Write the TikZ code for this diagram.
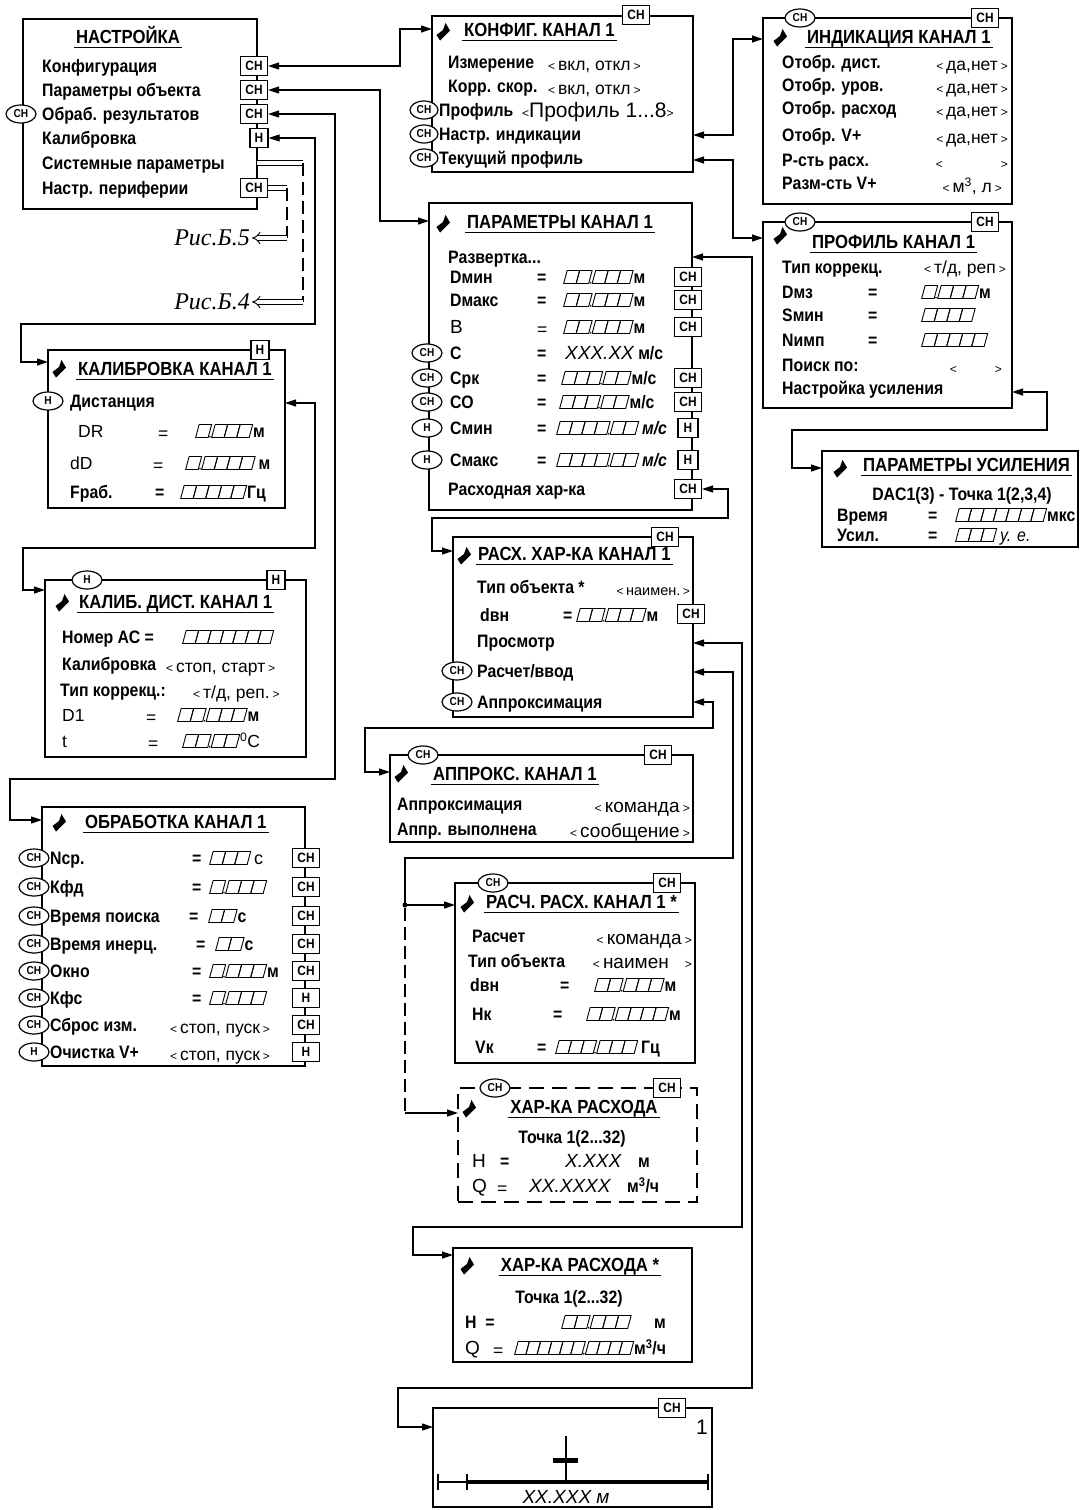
\documentclass[tikz,border=0pt]{standalone}
\usepackage{fontspec}
\setmainfont{Liberation Sans}[FakeStretch=0.88]
\newfontfamily\valfam{Liberation Sans}
\newfontfamily\risfont{Liberation Serif}
\usetikzlibrary{arrows.meta, shapes.geometric}

\newcommand\lblfont{\fontsize{18}{18}\selectfont\bfseries}
\newcommand\valfont{\valfam\fontsize{17.5}{17.5}\selectfont}
\newcommand\ttlfont{\fontsize{19}{19}\selectfont\bfseries}
\newcommand\tagfont{\fontsize{13.5}{13.5}\selectfont\bfseries}
\newcommand\lab{{\valfam\fontsize{12}{12}\selectfont\mdseries<}}
\newcommand\rab{{\valfam\fontsize{12}{12}\selectfont\mdseries>}}
\newcommand\opt[1]{\lab\,#1\,\rab}
% digit cells of the indicator
\newcommand\dgw{12.5}
\newcommand\dgt[2]{\tikz[baseline=0pt,x=1pt,y=1pt,line width=0.9pt]{%
  \foreach \q in {1,...,#1}{\draw (\q*\dgw-\dgw,0) -- ++(\dgw,0) -- ++(3.5,13) -- ++(-\dgw,0) -- cycle;}%
  \ifnum#2>0
    \fill (#1*\dgw+1.8,0.8) circle (0.9pt);
    \foreach \q in {1,...,#2}{\draw (#1*\dgw+3.5+\q*\dgw-\dgw,0) -- ++(\dgw,0) -- ++(3.5,13) -- ++(-\dgw,0) -- cycle;}%
  \fi}}
% menu cursor mark
\newcommand\flagmark[1]{\fill #1 ++(2.5,-9) -- ++(4.5,7.5) -- ++(-10,10) -- ++(-3.5,-5.5) -- ++(6.5,-5) -- cycle;}

\tikzset{
  panel/.style={draw, line width=2pt, inner sep=0pt},
  lbl/.style={anchor=west, inner sep=0pt, text height=13pt, text depth=0pt, font=\lblfont},
  val/.style={lbl, font=\valfont},
  ttl/.style={anchor=west, inner xsep=2pt, inner ysep=0pt, text height=15pt, text depth=4pt, font=\ttlfont},
  tag/.style={draw, fill=white, line width=1.2pt, font=\tagfont, inner sep=0pt, minimum width=27pt, minimum height=19pt},
  ntag/.style={tag, minimum width=18pt},
  oval/.style={ellipse, draw, fill=white, line width=1.2pt, font=\fontsize{11.5}{11.5}\selectfont\bfseries, inner sep=0pt, minimum width=30pt, minimum height=18pt},
  ris/.style={inner xsep=2pt, inner ysep=0pt, font=\risfont\itshape\fontsize{24}{24}\selectfont},
  link/.style={line width=1.2pt, {Triangle[length=11pt,width=7pt]}-{Triangle[length=11pt,width=7pt]}},
  into/.style={line width=1.2pt, -{Triangle[length=11pt,width=7pt]}},
  dbl/.style={double, double distance=3.5pt, line width=0.9pt},
  dashline/.style={line width=2pt, dash pattern=on 13pt off 6pt},
  uline/.style={line width=1.3pt},
}

\begin{document}
\begin{tikzpicture}[x=1pt, y=-1pt]
\useasboundingbox (0,0) rectangle (1081,1510);

% НАСТРОЙКА
\node[panel, minimum width=234pt, minimum height=190pt] (nastr) at (140,113.5) {};
\node[ttl, anchor=center] (nastrT) at (128,38) {НАСТРОЙКА};
\foreach \n/\y/\t in {1/66/Конфигурация, 2/90/Параметры объекта, 3/114/Обраб. результатов,
                      4/138/Калибровка, 5/163/Системные параметры, 6/188/Настр. периферии}
  \node[lbl] (na\n) at (42,\y) {\t};
\node[tag] (tKonf) at (254,66) {СН};
\node[tag] (tParam) at (254,90) {СН};
\node[tag] (tObr) at (254,114) {СН};
\node[ntag] (tKal) at (259,138) {Н};
\node[tag] (tPer) at (254,188) {СН};
\node[oval] (oObr) at (21,114) {СН};
\coordinate (sysOut) at (257,163);

\node[ris, anchor=east] (ris5) at (252,238) {Рис.Б.5};
\node[ris, anchor=east] (ris4) at (252,302) {Рис.Б.4};
\draw[dbl] (sysOut) -- (303,163);
\draw[dashline] (303,163) -- (303,302);
\draw[dbl, -{Implies[scale=1.4]}] (303,302) -- (ris4.east);
\draw[dbl] (tPer.east) -- (287,188);
\draw[dashline] (287,188) -- (287,238);
\draw[dbl, -{Implies[scale=1.4]}] (287,238) -- (ris5.east);

% КОНФИГ. КАНАЛ 1
\node[panel, minimum width=261pt, minimum height=156pt] (konf) at (562.5,94) {};
\node[tag] (konfTg) at (636,15) {СН};
\flagmark{(443,32)}
\node[ttl] (konfT) at (462,31) {КОНФИГ. КАНАЛ 1};
\node[lbl] (ko1) at (448,62) {Измерение};
\node[val] (ko1v) at (548,64) {\opt{вкл, откл}};
\node[lbl] (ko2) at (448,86) {Корр. скор.};
\node[val] (ko2v) at (548,88) {\opt{вкл, откл}};
\node[lbl] (ko3) at (439,110) {Профиль};
\node[val, font=\valfam\fontsize{21}{21}\selectfont] (ko3v) at (522,111) {\lab Профиль 1...8\rab};
\node[lbl] (ko4) at (439,134) {Настр. индикации};
\node[lbl] (ko5) at (439,158) {Текущий профиль};
\foreach \n/\y in {3/110, 4/134, 5/158}
  \node[oval, minimum width=28pt] (koo\n) at (424,\y) {СН};
\coordinate (konfIn) at (432,29);
\coordinate (konfInd) at (693,135);
\coordinate (konfProf) at (693,160);

% ИНДИКАЦИЯ КАНАЛ 1
\node[panel, minimum width=249pt, minimum height=186pt] (indik) at (887.5,111) {};
\node[oval] (indO) at (800,18) {СН};
\node[tag] (indTg) at (985,18) {СН};
\flagmark{(780,38)}
\node[ttl] (indT) at (805,38) {ИНДИКАЦИЯ КАНАЛ 1};
\foreach \n/\y/\t in {1/62/Отобр. дист., 2/85/Отобр. уров., 3/108/Отобр. расход,
                      4/135/Отобр. V+, 5/160/Р-сть расх., 6/183/Разм-сть V+}
  \node[lbl] (in\n) at (782,\y) {\t};
\foreach \n/\y in {1/64, 2/87, 3/110, 4/137}
  \node[val, anchor=east] (in\n v) at (1008,\y) {\opt{да,нет}};
\node[val, anchor=east] (in5v) at (1008,162) {\lab\hspace{58pt}\rab};
\node[val, anchor=east] (in6v) at (1002,186) {\opt{м\textsuperscript{3}, л}};
\coordinate (indIn) at (763,39);

% ПРОФИЛЬ КАНАЛ 1
\node[panel, minimum width=249pt, minimum height=186pt] (prof) at (887.5,315) {};
\node[oval] (profO) at (800,222) {СН};
\node[tag] (profTg) at (985,222) {СН};
\flagmark{(780,236)}
\node[ttl] (profT) at (810,243) {ПРОФИЛЬ КАНАЛ 1};
\foreach \n/\y/\t in {1/267/Тип коррекц., 2/292/Dмз, 3/315/Sмин, 4/340/Nимп,
                      5/365/Поиск по:, 6/388/Настройка усиления}
  \node[lbl] (pr\n) at (782,\y) {\t};
\foreach \n/\y in {2/292, 3/315, 4/340}
  \node[lbl] (pr\n e) at (868,\y) {=};
\node[val, anchor=east] (pr1v) at (1006,267) {\opt{т/д, реп}};
\node[lbl] (pr2v) at (921,292) {\dgt{1}{3}м};
\node[lbl] (pr3v) at (921,315) {\dgt{4}{0}};
\node[lbl] (pr4v) at (921,340) {\dgt{5}{0}};
\node[val, anchor=east] (pr5v) at (1002,367) {\lab\hspace{38pt}\rab};
\coordinate (profIn) at (763,238);
\coordinate (profUs) at (1012,392);

% ПАРАМЕТРЫ УСИЛЕНИЯ
\node[panel, minimum width=256pt, minimum height=96pt] (usil) at (950,499) {};
\flagmark{(840,469)}
\node[ttl] (usilT) at (861,466) {ПАРАМЕТРЫ УСИЛЕНИЯ};
\node[lbl, anchor=center] (us0) at (962,494) {DAC1(3) - Точка 1(2,3,4)};
\node[lbl] (us1) at (837,515) {Время};
\node[lbl] (us1e) at (928,515) {=};
\node[lbl] (us1v) at (955,515) {\dgt{7}{0}мкс};
\node[lbl] (us2) at (837,535) {Усил.};
\node[lbl] (us2e) at (928,535) {=};
\node[lbl] (us2v) at (955,535) {\dgt{3}{0}\,{\mdseries\itshape у. е.}};
\coordinate (usIn) at (822,468);

% ПАРАМЕТРЫ КАНАЛ 1
\node[panel, minimum width=263pt, minimum height=307pt] (param) at (560.5,356.5) {};
\flagmark{(443,224)}
\node[ttl] (paramT) at (465,223) {ПАРАМЕТРЫ КАНАЛ 1};
\node[lbl] (pa0) at (448,257) {Развертка...};
\foreach \n/\y/\t in {1/277/Dмин, 2/300/Dмакс, 4/353/С, 5/378/Срк, 6/402/СО, 7/428/Смин, 8/460/Смакс}
  \node[lbl] (pa\n) at (450,\y) {\t};
\node[val, font=\valfam\fontsize{19}{19}\selectfont] (pa3) at (450,327) {B};
\node[val] (pa3e) at (537,329) {=};
\node[lbl] (pa9) at (448,489) {Расходная хар-ка};
\foreach \n/\y in {1/277, 2/300, 4/353, 5/378, 6/402, 7/428, 8/460}
  \node[lbl] (pa\n e) at (537,\y) {=};
\node[lbl] (pa1v) at (563,277) {\dgt{2}{3}м};
\node[lbl] (pa2v) at (563,300) {\dgt{2}{3}м};
\node[lbl] (pa3v) at (563,327) {\dgt{2}{3}м};
\node[lbl] (pa4v) at (565,353) {{\valfam\mdseries\itshape\fontsize{19}{19}\selectfont XXX.XX} м/с};
\node[lbl] (pa5v) at (561,378) {\dgt{3}{2}м/с};
\node[lbl] (pa6v) at (559,402) {\dgt{3}{2}м/с};
\node[lbl] (pa7v) at (556,428) {\dgt{4}{2}\,\textit{м/с}};
\node[lbl] (pa8v) at (556,460) {\dgt{4}{2}\,\textit{м/с}};
\foreach \n/\y in {1/277, 2/300, 3/327, 5/378, 6/402}
  \node[tag] (pat\n) at (688,\y) {СН};
\node[ntag, minimum width=20pt] (pat7) at (688,428) {Н};
\node[ntag, minimum width=20pt] (pat8) at (688,460) {Н};
\node[tag] (tRash) at (688,489) {СН};
\foreach \n/\y/\k in {4/353/СН, 5/378/СН, 6/402/СН, 7/428/Н, 8/460/Н}
  \node[oval] (pao\n) at (427,\y) {\k};
\coordinate (paramIn) at (429,221);
\coordinate (paramRaz) at (692,257);

% КАЛИБРОВКА КАНАЛ 1
\node[panel, minimum width=237pt, minimum height=158pt] (kalib) at (166.5,429) {};
\node[ntag] (kalTg) at (260,350) {Н};
\flagmark{(59,369)}
\node[ttl] (kalT) at (76,370) {КАЛИБРОВКА КАНАЛ 1};
\node[oval] (kalO) at (48,401) {Н};
\node[lbl] (ka1) at (70,401) {Дистанция};
\node[val] (ka2) at (78,431) {DR};
\node[val] (ka2e) at (158,433) {=};
\node[lbl] (ka2v) at (195,431) {\dgt{1}{3}м};
\node[val] (ka3) at (70,463) {dD};
\node[val] (ka3e) at (153,465) {=};
\node[lbl] (ka3v) at (185,463) {\dgt{1}{4}\,м};
\node[lbl] (ka4) at (70,492) {Fраб.};
\node[lbl] (ka4e) at (155,492) {=};
\node[lbl] (ka4v) at (180,492) {\dgt{5}{0}Гц};
\coordinate (kalIn) at (48,362);
\coordinate (kalDist) at (285,403);

% КАЛИБ. ДИСТ. КАНАЛ 1
\node[panel, minimum width=261pt, minimum height=177pt] (kdist) at (175.5,668.5) {};
\node[oval] (kdO) at (87,580) {Н};
\node[ntag] (kdTg) at (276,580) {Н};
\flagmark{(62,603)}
\node[ttl] (kdT) at (77,603) {КАЛИБ. ДИСТ. КАНАЛ 1};
\node[lbl] (kd1) at (62,637) {Номер АС =};
\node[lbl] (kd1v) at (182,637) {\dgt{7}{0}};
\node[lbl] (kd2) at (62,664) {Калибровка};
\node[val] (kd2v) at (166,666) {\opt{стоп, старт}};
\node[lbl] (kd3) at (60,690) {Тип коррекц.:};
\node[val] (kd3v) at (193,692) {\opt{т/д, реп.}};
\node[val] (kd4) at (62,715) {D1};
\node[val] (kd4e) at (146,717) {=};
\node[lbl] (kd4v) at (177,715) {\dgt{2}{3}м};
\node[val] (kd5) at (62,741) {t};
\node[val] (kd5e) at (148,743) {=};
\node[val] (kd5v) at (182,741) {\dgt{2}{2}\textsuperscript{0}С};
\coordinate (kdIn) at (45,590);

% ОБРАБОТКА КАНАЛ 1
\node[panel, minimum width=263pt, minimum height=259pt] (obr) at (173.5,936.5) {};
\flagmark{(59,823)}
\node[ttl] (obrT) at (83,823) {ОБРАБОТКА КАНАЛ 1};
\foreach \n/\y/\t in {1/858/Nср., 2/887/Кфд, 3/916/Время поиска, 4/944/Время инерц.,
                      5/971/Окно, 6/998/Кфс, 7/1025/Сброс изм., 8/1052/Очистка V+}
  \node[lbl] (ob\n) at (50,\y) {\t};
\foreach \n/\y/\x in {1/858/192, 2/887/192, 3/916/189, 4/944/196, 5/971/192, 6/998/192}
  \node[lbl] (ob\n e) at (\x,\y) {=};
\node[lbl] (ob1v) at (209,858) {\dgt{3}{0}\,{\valfam\mdseries с}};
\node[lbl] (ob2v) at (209,887) {\dgt{1}{3}};
\node[lbl] (ob3v) at (208,916) {\dgt{2}{0}с};
\node[lbl] (ob4v) at (215,944) {\dgt{2}{0}с};
\node[lbl] (ob5v) at (209,971) {\dgt{1}{3}м};
\node[lbl] (ob6v) at (209,998) {\dgt{1}{3}};
\node[val] (ob7v) at (170,1027) {\opt{стоп, пуск}};
\node[val] (ob8v) at (170,1054) {\opt{стоп, пуск}};
\foreach \n/\y/\k in {1/858/СН, 2/887/СН, 3/916/СН, 4/944/СН, 5/971/СН, 6/998/Н, 7/1025/СН, 8/1052/Н}
  \node[tag] (obt\n) at (306,\y) {\k};
\foreach \n/\y/\k in {1/858/СН, 2/887/СН, 3/916/СН, 4/944/СН, 5/971/СН, 6/998/СН, 7/1025/СН, 8/1052/Н}
  \node[oval] (obo\n) at (34,\y) {\k};
\coordinate (obrIn) at (42,820);

% РАСХ. ХАР-КА КАНАЛ 1
\node[panel, minimum width=240pt, minimum height=180pt] (rash) at (573,627) {};
\node[tag] (rashTg) at (665,537) {СН};
\flagmark{(464,556)}
\node[ttl] (rashT) at (476,555) {РАСХ. ХАР-КА КАНАЛ 1};
\node[lbl] (ra1) at (477,587) {Тип объекта *};
\node[val, anchor=east, font=\valfam\fontsize{14.5}{14.5}\selectfont] (ra1v) at (690,589) {\opt{наимен.}};
\node[lbl] (ra2) at (480,615) {dвн};
\node[lbl] (ra2e) at (563,615) {=};
\node[lbl] (ra2v) at (576,615) {\dgt{2}{3}м};
\node[tag] (ra2t) at (691,614) {СН};
\node[lbl] (ra3) at (477,641) {Просмотр};
\node[lbl] (ra4) at (477,671) {Расчет/ввод};
\node[lbl] (ra5) at (477,702) {Аппроксимация};
\node[oval] (rao4) at (457,671) {СН};
\node[oval] (rao5) at (457,702) {СН};
\coordinate (rashIn) at (453,551);
\coordinate (rashPr) at (693,643);
\coordinate (rashRv) at (693,672);
\coordinate (rashAp) at (693,702);

% АППРОКС. КАНАЛ 1
\node[panel, minimum width=303pt, minimum height=87pt] (appr) at (541.5,798.5) {};
\node[oval] (apO) at (423,755) {СН};
\node[tag] (apTg) at (658,755) {СН};
\flagmark{(401,774)}
\node[ttl] (apT) at (431,775) {АППРОКС. КАНАЛ 1};
\node[lbl] (ap1) at (397,804) {Аппроксимация};
\node[val, anchor=east, font=\valfam\fontsize{19}{19}\selectfont] (ap1v) at (690,806) {\opt{команда}};
\node[lbl] (ap2) at (397,829) {Аппр. выполнена};
\node[val, anchor=east, font=\valfam\fontsize{19}{19}\selectfont] (ap2v) at (690,831) {\opt{сообщение}};
\coordinate (apIn) at (390,772);

% РАСЧ. РАСХ. КАНАЛ 1 *
\node[panel, minimum width=240pt, minimum height=180pt] (rasch) at (575,973) {};
\node[oval] (rcO) at (493,883) {СН};
\node[tag] (rcTg) at (667,883) {СН};
\flagmark{(467,904)}
\node[ttl] (rcT) at (484,903) {РАСЧ. РАСХ. КАНАЛ 1 *};
\node[lbl] (rc1) at (472,936) {Расчет};
\node[val, anchor=east, font=\valfam\fontsize{19}{19}\selectfont] (rc1v) at (692,938) {\opt{команда}};
\node[lbl] (rc2) at (468,961) {Тип объекта};
\node[val, anchor=east, font=\valfam\fontsize{19}{19}\selectfont] (rc2v) at (692,962) {\lab\,наимен\hspace{16pt}\rab};
\node[lbl] (rc3) at (470,985) {dвн};
\node[lbl] (rc3e) at (560,985) {=};
\node[lbl] (rc3v) at (594,985) {\dgt{2}{3}м};
\node[lbl] (rc4) at (472,1014) {Нк};
\node[lbl] (rc4e) at (553,1014) {=};
\node[lbl] (rc4v) at (586,1014) {\dgt{2}{4}м};
\node[lbl] (rc5) at (475,1047) {Vк};
\node[lbl] (rc5e) at (537,1047) {=};
\node[lbl] (rc5v) at (555,1047) {\dgt{3}{3}\,Гц};
\coordinate (raschIn) at (455,905);

% ХАР-КА РАСХОДА
\node[panel, line width=2.5pt, dash pattern=on 15pt off 8pt, minimum width=239pt, minimum height=114pt] (hk) at (577.5,1145) {};
\node[oval] (hkO) at (495,1088) {СН};
\node[tag] (hkTg) at (667,1088) {СН};
\flagmark{(469,1109)}
\node[ttl, anchor=center] (hkT) at (584,1108) {ХАР-КА РАСХОДА};
\node[lbl, anchor=center] (hk0) at (572,1137) {Точка 1(2...32)};
\node[val, font=\valfam\fontsize{19}{19}\selectfont] (hk1) at (472,1161) {Н};
\node[lbl] (hk1e) at (500,1161) {=};
\node[val, font=\valfam\fontsize{19}{19}\selectfont\itshape] (hk1v) at (565,1161) {X.XXX};
\node[lbl] (hk1u) at (638,1161) {м};
\node[val, font=\valfam\fontsize{19}{19}\selectfont] (hk2) at (472,1186) {Q};
\node[val] (hk2e) at (497,1188) {=};
\node[val, font=\valfam\fontsize{19}{19}\selectfont\itshape] (hk2v) at (529,1186) {XX.XXXX};
\node[lbl] (hk2u) at (627,1186) {м\textsuperscript{3}/ч};
\coordinate (hkIn) at (458,1113);

% ХАР-КА РАСХОДА *
\node[panel, minimum width=239pt, minimum height=114pt] (hks) at (572.5,1305) {};
\flagmark{(467,1266)}
\node[ttl, anchor=center] (hksT) at (580,1266) {ХАР-КА РАСХОДА *};
\node[lbl, anchor=center] (hks0) at (569,1297) {Точка 1(2...32)};
\node[lbl] (hks1) at (465,1322) {Н\ \ =};
\node[lbl] (hks1v) at (561,1322) {\dgt{2}{3}};
\node[lbl] (hks1u) at (654,1322) {м};
\node[val, font=\valfam\fontsize{19}{19}\selectfont] (hks2) at (465,1348) {Q};
\node[val] (hks2e) at (493,1350) {=};
\node[lbl] (hks2v) at (514,1348) {\def\dgw{11.2}\dgt{6}{4}м\textsuperscript{3}/ч};
\coordinate (hksIn) at (453,1255);

% развертка
\node[panel, minimum width=279pt, minimum height=99pt] (scan) at (572.5,1457.5) {};
\node[tag] (scanTg) at (672,1408) {СН};
\node[val, anchor=east, font=\valfam\fontsize{21}{21}\selectfont] (scanN) at (708,1428) {1};
\draw[line width=1.2pt] (438,1482) -- (467,1482);
\draw[line width=4pt] (467,1482) -- (708,1482);
\foreach \x in {438, 467, 708}
  \draw[line width=1.5pt] (\x,1474) -- (\x,1490);
\draw[line width=1.5pt] (566,1436) -- (566,1482);
\draw[line width=5pt] (553,1460) -- (578,1460);
\node[val, anchor=center, font=\valfam\fontsize{19}{19}\selectfont\itshape] (scanV) at (566,1497) {XX.XXX м};
\coordinate (scanIn) at (433,1427);

% underlines
\foreach \t in {nastrT, konfT, indT, profT, usilT, paramT, kalT, kdT, obrT, rashT, apT, rcT, hkT, hksT}
  \draw[uline] (\t.south west) -- (\t.south east);

% connectors
\draw[link] (tKonf.east) -| (400,29) -- (konfIn);
\draw[link] (tParam.east) -| (380,221) -- (paramIn);
\draw[link] (tObr.east) -| (335,779) -| (10,820) -- (obrIn);
\draw[link] (tKal.east) -| (315,324) -| (21,362) -- (kalIn);
\draw[link] (kalDist) -| (315,548) -| (23,590) -- (kdIn);
\draw[link] (konfInd) -| (733,39) -- (indIn);
\draw[link] (konfProf) -| (733,238) -- (profIn);
\draw[link] (profUs) -| (1047,430) -| (792,468) -- (usIn);
\draw[link] (tRash.east) -| (728,518) -| (432,551) -- (rashIn);
\draw[link] (paramRaz) -| (752,1388) -| (398,1427) -- (scanIn);
\draw[link] (rashPr) -| (742,1227) -| (413,1255) -- (hksIn);
\draw[link] (rashAp) -| (713,728) -| (365,772) -- (apIn);
\node[circle, fill, inner sep=0pt, minimum size=5pt] (split) at (405,905) {};
\draw[link] (rashRv) -| (733,858) -| (split.center) -- (raschIn);
\draw[dashline] (split) -- (405,1113);
\draw[into] (405,1113) -- (hkIn);
\end{tikzpicture}
\end{document}
